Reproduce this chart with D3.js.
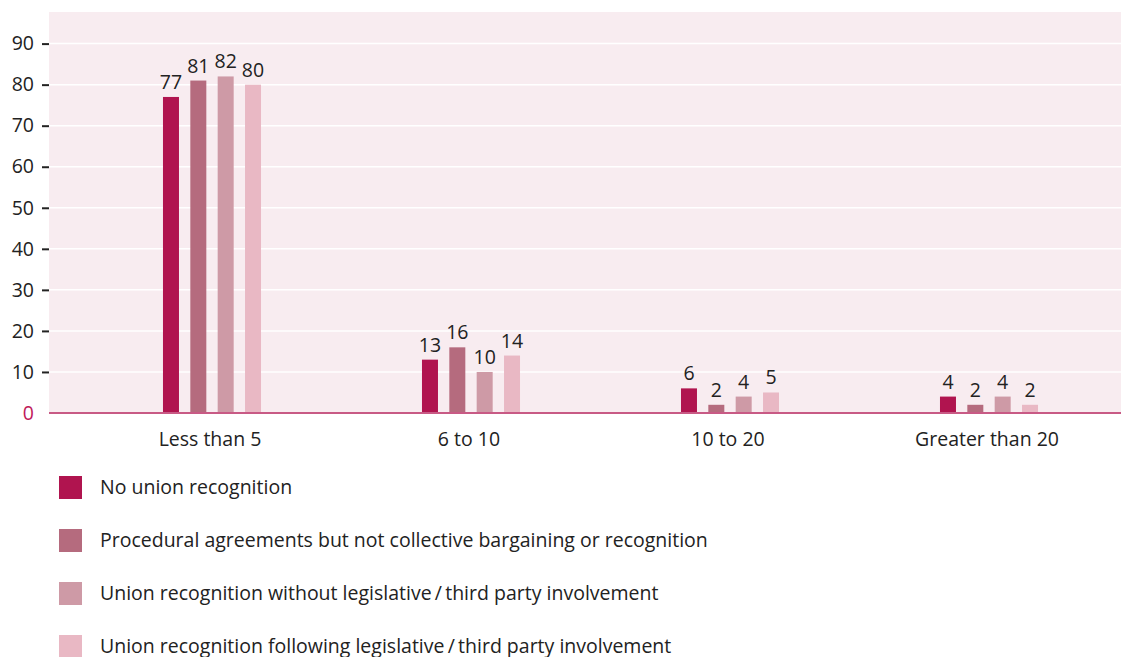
<!DOCTYPE html>
<html>
<head>
<meta charset="utf-8">
<script src="https://cdn.jsdelivr.net/npm/d3@7"></script>
<style>
  html, body { margin: 0; padding: 0; background: #fff; }
  svg { display: block; font-family: "Open Sans", sans-serif; }
</style>
</head>
<body>
<svg id="chart" width="1121" height="657"></svg>
<script>
// Years of recognition categories and series
const categories = ["Less than 5", "6 to 10", "10 to 20", "Greater than 20"];
const seriesNames = [
  "No union recognition",
  "Procedural agreements but not collective bargaining or recognition",
  "Union recognition without legislative\u2009/\u2009third party involvement",
  "Union recognition following legislative\u2009/\u2009third party involvement"
];
const noRecognition      = [77, 13, 6, 4];
const proceduralOnly     = [81, 16, 2, 2];
const withoutLegislative = [82, 10, 4, 4];
const followingLegislative = [80, 14, 5, 2];
const yTicks = [0, 10, 20, 30, 40, 50, 60, 70, 80, 90];
const colors = ["#b0144f", "#b56b7e", "#ce9aa6", "#e9b8c4"];

const seriesValues = [noRecognition, proceduralOnly, withoutLegislative, followingLegislative];

const svg = d3.select("#chart");
const plot = { left: 49, right: 1121, top: 12, bottom: 413 };

const y = d3.scaleLinear().domain([0, 97.7]).range([plot.bottom, plot.top]);
const x = d3.scaleBand().domain(categories).range([82.5, 1118.5]).padding(0);
const xs = d3.scaleBand().domain(d3.range(seriesNames.length))
  .range([-54.7, 54.7]).paddingInner(0.415).paddingOuter(0.2075);

// Plot background
svg.append("rect")
  .attr("x", plot.left).attr("y", plot.top)
  .attr("width", plot.right - plot.left).attr("height", plot.bottom - plot.top)
  .attr("fill", "#f8ecf0");

// Gridlines
svg.append("g").selectAll("line")
  .data(yTicks.filter(d => d > 0))
  .join("line")
  .attr("x1", plot.left).attr("x2", plot.right)
  .attr("y1", d => y(d)).attr("y2", d => y(d))
  .attr("stroke", "#ffffff").attr("stroke-width", 1.5);

// Y axis
const yAxis = svg.append("g")
  .attr("transform", `translate(${plot.left},0)`)
  .call(d3.axisLeft(y).tickValues(yTicks).tickSize(7).tickPadding(8).tickFormat(d3.format("d")));
yAxis.select(".domain").remove();
yAxis.selectAll(".tick line").attr("stroke", "#222").attr("stroke-width", 2)
  .filter(d => d === 0).remove();
yAxis.selectAll(".tick text")
  .attr("font-size", 19.5).attr("font-family", "Open Sans, sans-serif")
  .attr("fill", d => d === 0 ? "#c0185a" : "#222")
  .attr("x", -15);

// Bars
const groups = svg.append("g").selectAll("g")
  .data(categories)
  .join("g")
  .attr("transform", d => `translate(${x(d) + x.bandwidth() / 2},0)`);

groups.each(function(cat, ci) {
  const g = d3.select(this);
  const vals = seriesValues.map((s, si) => ({ si, v: s[ci] }));
  g.selectAll("rect").data(vals).join("rect")
    .attr("x", d => xs(d.si))
    .attr("width", xs.bandwidth())
    .attr("y", d => y(d.v))
    .attr("height", d => y(0) - y(d.v))
    .attr("fill", d => colors[d.si]);
  g.selectAll("text.val").data(vals).join("text")
    .attr("class", "val")
    .attr("x", d => xs(d.si) + xs.bandwidth() / 2)
    .attr("y", d => y(d.v) - 8)
    .attr("text-anchor", "middle")
    .attr("font-size", 19.5)
    .attr("fill", "#222")
    .text(d => d.v);
});

// Baseline
svg.append("line")
  .attr("x1", plot.left).attr("x2", plot.right)
  .attr("y1", y(0)).attr("y2", y(0))
  .attr("stroke", "#c85a85").attr("stroke-width", 2);

// Category labels
svg.append("g").selectAll("text")
  .data(categories)
  .join("text")
  .attr("x", d => x(d) + x.bandwidth() / 2 - 2)
  .attr("y", 446)
  .attr("text-anchor", "middle")
  .attr("font-size", 19.5)
  .attr("fill", "#222")
  .text(d => d);

// Legend
const legend = svg.append("g").selectAll("g")
  .data(seriesNames)
  .join("g")
  .attr("transform", (d, i) => `translate(59,${476 + i * 53})`);
legend.append("rect")
  .attr("width", 23).attr("height", 23)
  .attr("fill", (d, i) => colors[i]);
legend.append("text")
  .attr("x", 41).attr("y", 11.5)
  .attr("dy", "0.35em")
  .attr("font-size", 19.5)
  .attr("fill", "#222")
  .text(d => d);
</script>
</body>
</html>
